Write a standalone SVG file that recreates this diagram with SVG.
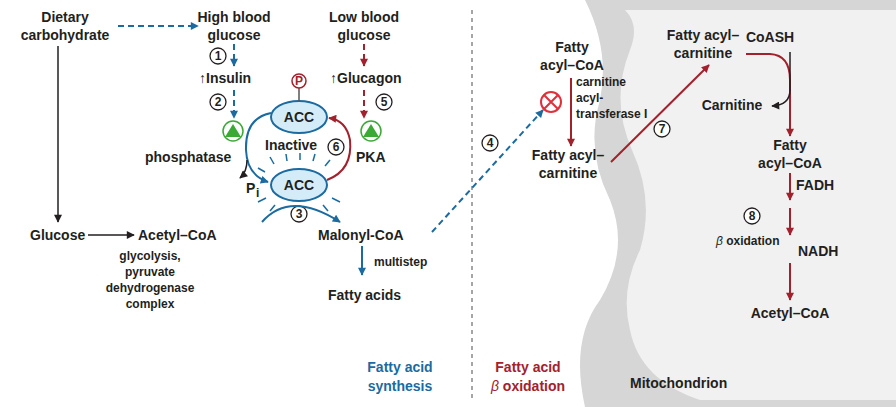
<svg xmlns="http://www.w3.org/2000/svg" width="896" height="407" viewBox="0 0 896 407">
<defs>
<style>
text{font-family:"Liberation Sans",Arial,sans-serif;font-weight:bold;font-size:14px;fill:#231f20}
.s{font-size:12px}
.c{text-anchor:middle}
.bl{stroke:#1b6aa0;stroke-width:2;fill:none}
.rd{stroke:#a3212c;stroke-width:2;fill:none}
.bk{stroke:#231f20;stroke-width:1.5;fill:none}
.d{stroke-dasharray:6,4}
.num{fill:#fff;stroke:#231f20;stroke-width:1.3}
</style>
<marker id="ab" viewBox="0 0 10 10" refX="9" refY="5" markerWidth="9" markerHeight="8" markerUnits="userSpaceOnUse" orient="auto"><path d="M0,0L10,5L0,10z" fill="#1b6aa0"/></marker>
<marker id="ar" viewBox="0 0 10 10" refX="9" refY="5" markerWidth="9" markerHeight="8" markerUnits="userSpaceOnUse" orient="auto"><path d="M0,0L10,5L0,10z" fill="#a3212c"/></marker>
<marker id="ak" viewBox="0 0 10 10" refX="9" refY="5" markerWidth="9" markerHeight="8" markerUnits="userSpaceOnUse" orient="auto"><path d="M0,0L10,5L0,10z" fill="#231f20"/></marker>
</defs>
<rect width="896" height="407" fill="#fff"/>
<g id="mito">
<path d="M585,0 H896 V407 H585 Q570,340 600,300 Q630,250 610,200 Q585,150 600,100 Q610,50 585,0z" fill="#d6d6d7"/>
<path d="M625,10 H896 V400 H700 Q640,380 630,330 Q620,290 640,250 Q655,200 632,150 Q610,100 630,50 Q640,25 625,10z" fill="#f1f1f2"/>
<text x="630" y="388" font-size="15">Mitochondrion</text>
</g>
<line x1="472" y1="10" x2="472" y2="400" stroke="#888" stroke-width="1.5" stroke-dasharray="4,4"/>
<g id="labels">
<text class="c" x="65" y="22">Dietary</text><text class="c" x="65" y="40">carbohydrate</text>
<text class="c" x="234" y="22">High blood</text><text class="c" x="234" y="40">glucose</text>
<text class="c" x="364" y="22">Low blood</text><text class="c" x="364" y="40">glucose</text>
<text x="199" y="83">↑Insulin</text>
<text x="330" y="83">↑Glucagon</text>
<text x="145" y="162">phosphatase</text>
<text x="265" y="150">Inactive</text>
<text x="356" y="162">PKA</text>
<text x="246" y="193">P</text><text x="256" y="197" class="s">i</text>
<text x="30" y="240">Glucose</text>
<text x="138" y="240">Acetyl–CoA</text>
<text x="318" y="240">Malonyl-CoA</text>
<text class="c s" x="150" y="260">glycolysis,</text>
<text class="c s" x="150" y="276">pyruvate</text>
<text class="c s" x="150" y="292">dehydrogenase</text>
<text class="c s" x="150" y="308">complex</text>
<text x="374" y="266" class="s">multistep</text>
<text x="328" y="300">Fatty acids</text>
<text class="c" x="400" y="372" style="fill:#1b6aa0" font-size="15">Fatty acid</text>
<text class="c" x="400" y="391" style="fill:#1b6aa0" font-size="15">synthesis</text>
<text class="c" x="528" y="372" style="fill:#a3212c" font-size="15">Fatty acid</text>
<text class="c" x="528" y="391" style="fill:#a3212c" font-size="15"><tspan font-style="italic" font-weight="normal">β</tspan> oxidation</text>
<text class="c" x="572" y="52">Fatty</text><text class="c" x="572" y="70">acyl–CoA</text>
<text x="576" y="86" class="s">carnitine</text><text x="576" y="102" class="s">acyl-</text><text x="576" y="118" class="s">transferase I</text>
<text class="c" x="568" y="160">Fatty acyl–</text><text class="c" x="568" y="178">carnitine</text>
<text class="c" x="703" y="40" font-size="13">Fatty acyl–</text><text class="c" x="703" y="58" font-size="13">carnitine</text>
<text class="c" x="770" y="42">CoASH</text>
<text class="c" x="732" y="110">Carnitine</text>
<text class="c" x="790" y="150">Fatty</text><text class="c" x="790" y="168">acyl–CoA</text>
<text x="796" y="190">FADH</text>
<text x="716" y="245" class="s"><tspan font-style="italic" font-weight="normal">β</tspan> oxidation</text>
<text x="798" y="256">NADH</text>
<text class="c" x="790" y="318">Acetyl–CoA</text>
</g>
<g id="enzymes">
<ellipse cx="299" cy="117" rx="28" ry="16" fill="#d4ecf7" stroke="#1b6aa0" stroke-width="2"/>
<text class="c" x="299" y="122">ACC</text>
<line x1="299" y1="101" x2="299" y2="88" stroke="#555" stroke-width="1.5"/>
<circle cx="299" cy="81" r="7" fill="#fff" stroke="#a3212c" stroke-width="1.5"/>
<text class="c s" x="299" y="85" style="fill:#a3212c">P</text>
<ellipse cx="299" cy="185" rx="28" ry="16" fill="#d4ecf7" stroke="#1b6aa0" stroke-width="2"/>
<text class="c" x="299" y="190">ACC</text>
<g stroke="#1b6aa0" stroke-width="1.5">
<line x1="265" y1="172" x2="258" y2="168"/><line x1="274" y1="164" x2="270" y2="157"/><line x1="287" y1="161" x2="286" y2="154"/><line x1="300" y1="160" x2="300" y2="153"/><line x1="313" y1="161" x2="315" y2="154"/><line x1="325" y1="166" x2="330" y2="160"/>
<line x1="266" y1="198" x2="258" y2="202"/><line x1="332" y1="198" x2="340" y2="202"/><line x1="275" y1="205" x2="270" y2="211"/><line x1="323" y1="205" x2="328" y2="211"/>
</g>
<circle cx="233" cy="131" r="10" fill="#fff" stroke="#3aaa35" stroke-width="1.5"/><path d="M225,137L233,124L241,137z" fill="#3aaa35"/>
<circle cx="371" cy="131" r="10" fill="#fff" stroke="#3aaa35" stroke-width="1.5"/><path d="M363,137L371,124L379,137z" fill="#3aaa35"/>
<circle cx="551" cy="102" r="10" fill="#fff" stroke="#e0303c" stroke-width="2"/>
<path d="M544,95L558,109M558,95L544,109" stroke="#e0303c" stroke-width="2"/>
</g>
<g id="numbers">
<circle class="num" cx="218" cy="56" r="8"/><text class="c s" x="218" y="60">1</text>
<circle class="num" cx="218" cy="102" r="8"/><text class="c s" x="218" y="106">2</text>
<circle class="num" cx="299" cy="214" r="8"/><text class="c s" x="299" y="218">3</text>
<circle class="num" cx="490" cy="143" r="8"/><text class="c s" x="490" y="147">4</text>
<circle class="num" cx="384" cy="102" r="8"/><text class="c s" x="384" y="106">5</text>
<circle class="num" cx="336" cy="147" r="8"/><text class="c s" x="336" y="151">6</text>
<circle class="num" cx="662" cy="129" r="8"/><text class="c s" x="662" y="133">7</text>
<circle class="num" cx="752" cy="216" r="8"/><text class="c s" x="752" y="220">8</text>
</g>
<g id="connectors">
<path class="bl d" d="M118,26H198" marker-end="url(#ab)"/>
<path class="bl d" d="M234,44V66" marker-end="url(#ab)"/>
<path class="bl d" d="M234,90V118" marker-end="url(#ab)"/>
<path class="rd d" d="M364,44V66" marker-end="url(#ar)"/>
<path class="rd d" d="M364,90V118" marker-end="url(#ar)"/>
<path class="bk" d="M58,46V222" marker-end="url(#ak)"/>
<path class="bk" d="M88,235H134" marker-end="url(#ak)"/>
<path class="bl" d="M271,113Q245,118 246,150Q247,175 268,182" marker-end="url(#ab)"/>
<path class="bk" d="M247,160Q247,172 240,178" marker-end="url(#ak)"/>
<path class="rd" d="M327,180Q353,170 350,140Q346,120 329,118" marker-end="url(#ar)"/>
<path class="bl" d="M262,222Q290,190 340,222" marker-end="url(#ab)"/>
<path class="bl d" d="M432,232L543,110" marker-end="url(#ab)"/>
<path class="bl" d="M362,246V275" marker-end="url(#ab)"/>
<path class="rd" d="M571,78V146" marker-end="url(#ar)"/>
<path class="rd" d="M611,162L709,65" marker-end="url(#ar)"/>
<path class="rd" d="M746,54H770Q790,55 790,80V136" marker-end="url(#ar)"/>
<path class="bk" d="M790,52V90Q790,105 772,106" marker-end="url(#ak)"/>
<path class="rd" d="M790,173V200" marker-end="url(#ar)"/>
<path class="rd" d="M790,208V235" marker-end="url(#ar)"/>
<path class="rd" d="M790,263V300" marker-end="url(#ar)"/>
</g>
</svg>
